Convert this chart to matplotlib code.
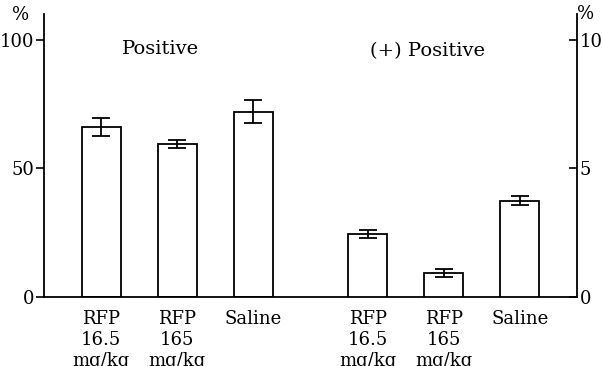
import matplotlib
matplotlib.use("Agg")
import numpy as np
from matplotlib import pyplot as plt

plt.rcParams['font.family'] = ['DejaVu Serif']

# left panel: Positive (%), scale 0-100
left_labels = ["RFP\n16.5\nmg/kg", "RFP\n165\nmg/kg", "Saline"]
left_values = [66, 59.5, 72]
left_errors = [3.5, 1.5, 4.5]

# right panel: (+) Positive (%), scale 0-10
right_labels = ["RFP\n16.5\nmg/kg", "RFP\n165\nmg/kg", "Saline"]
right_values = [2.45, 0.94, 3.75]
right_errors = [0.16, 0.16, 0.18]

left_pos = np.array([0, 1, 2])
right_pos = np.array([3.5, 4.5, 5.5])

fig = plt.figure(figsize=(6.02, 3.66), dpi=100)
ax = fig.add_axes([44 / 602, 69 / 366, 533 / 602, 283 / 366])
ax2 = ax.twinx()

bar_kw = dict(width=0.51, color="white", edgecolor="black", linewidth=1.3)
err_kw = dict(fmt="none", ecolor="black", elinewidth=1.3, capsize=6.5, capthick=1.3)

ax.bar(left_pos, left_values, **bar_kw)
ax.errorbar(left_pos, left_values, yerr=left_errors, **err_kw)
ax2.bar(right_pos, right_values, **bar_kw)
ax2.errorbar(right_pos, right_values, yerr=right_errors, **err_kw)

ax.set_xlim(-0.75, 6.25)
ax.set_ylim(0, 110)
ax2.set_ylim(0, 11)

ax.set_xticks(np.concatenate([left_pos, right_pos]))
ax.set_xticklabels(left_labels + right_labels, fontsize=13, linespacing=1.22,
                   va="top")
ax.tick_params(axis="x", length=0, pad=9)

ax.set_yticks([0, 50, 100])
ax.tick_params(axis="y", direction="out", length=6, width=1.2, pad=1, labelsize=13)
ax2.set_yticks([0, 5, 10])
ax2.tick_params(axis="y", direction="in", length=6, width=1.2, pad=2, labelsize=13)

for s in ["top", "right"]:
    ax.spines[s].set_visible(False)
for s in ["top", "left", "bottom"]:
    ax2.spines[s].set_visible(False)
for a in (ax, ax2):
    for s in a.spines.values():
        s.set_linewidth(1.3)

fig.text(21 / 602, 1 - 15 / 366, "%", fontsize=13, ha="center", va="center")
fig.text(586 / 602, 1 - 14 / 366, "%", fontsize=13, ha="center", va="center")
fig.text(161 / 602, 1 - 49 / 366, "Positive", fontsize=14, ha="center", va="center")
fig.text(428 / 602, 1 - 51 / 366, "(+) Positive", fontsize=14, ha="center", va="center")

fig.savefig("out.png", dpi=100)
